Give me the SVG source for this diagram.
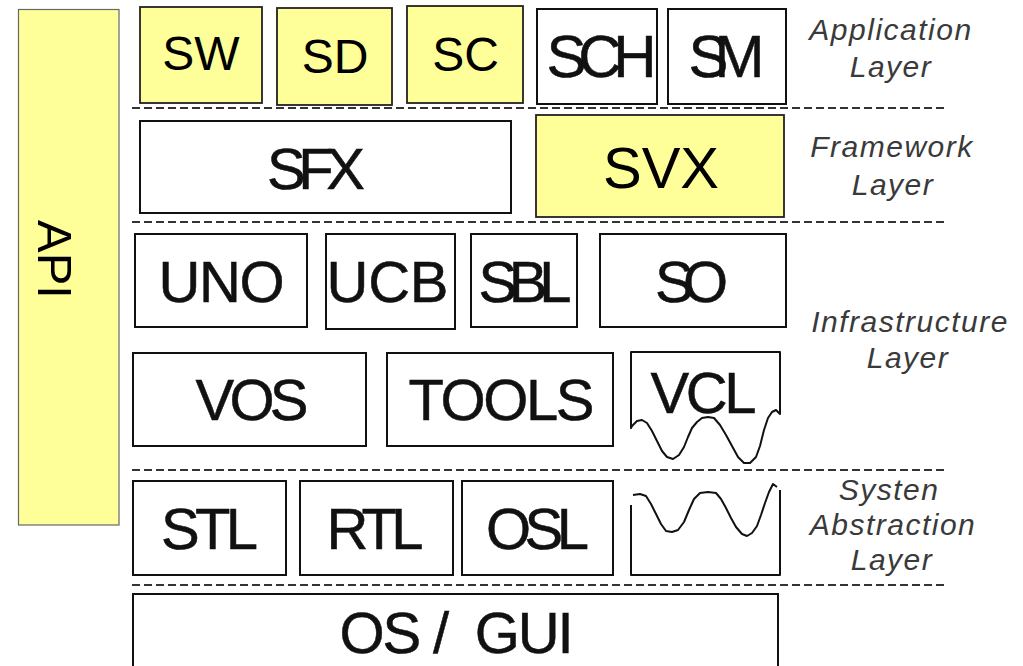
<svg xmlns="http://www.w3.org/2000/svg" width="1023" height="666" viewBox="0 0 1023 666">
<style>
.box{fill:#ffffff;stroke:#111;stroke-width:2}
.ybox{fill:#ffff99;stroke:#222;stroke-width:1.8}
.api{fill:#ffff99;stroke:#666;stroke-width:1.2}
.t{font-family:"Liberation Sans",Arial,sans-serif;font-size:58px;fill:#111;stroke:#111;stroke-width:0.5;text-anchor:middle}
.ty{font-family:"Liberation Sans",Arial,sans-serif;font-size:48px;fill:#000;text-anchor:middle}
.lbl{font-family:"Liberation Sans",Arial,sans-serif;font-size:30px;font-style:italic;fill:#3a3a3a;text-anchor:middle;letter-spacing:1.5px}
.sep{stroke:#333;stroke-width:2;stroke-dasharray:8 4;fill:none}
.wave{fill:none;stroke:#111;stroke-width:2;stroke-linejoin:round}
</style>
<rect width="1023" height="666" fill="#ffffff"/>
<g id="separators">
<line class="sep" x1="132" y1="108" x2="944" y2="108"/>
<line class="sep" x1="132" y1="222" x2="944" y2="222"/>
<line class="sep" x1="132" y1="470" x2="944" y2="470"/>
<line class="sep" x1="132" y1="585" x2="944" y2="585"/>
</g>
<g id="api">
<rect class="api" x="18.5" y="9.5" width="100.5" height="515.5"/>
<text transform="translate(38,220) rotate(90)" x="0" y="0" font-family="Liberation Sans, Arial, sans-serif" font-size="49" fill="#000">API</text>
</g>
<g id="sw"><rect class="ybox" x="140" y="7" width="122" height="96"/><text class="ty" x="201" y="70">SW</text></g>
<g id="sd"><rect class="ybox" x="277" y="8" width="115" height="97"/><text class="ty" x="335" y="73">SD</text></g>
<g id="sc"><rect class="ybox" x="407" y="6" width="116" height="97"/><text class="ty" x="465.5" y="70.5">SC</text></g>
<g id="sch"><rect class="box" x="537" y="9" width="120" height="95"/><text class="t" x="601.5" y="76.5" style="font-size:60px" textLength="110">SCH</text></g>
<g id="sm"><rect class="box" x="668" y="9" width="118" height="95"/><text class="t" x="726.5" y="76.5" style="font-size:60px" textLength="76">SM</text></g>
<g id="app-label"><text class="lbl" x="891" y="40">Application</text><text class="lbl" x="891" y="77">Layer</text></g>
<g id="sfx"><rect class="box" x="140" y="121" width="371" height="92"/><text class="t" x="316" y="188.5" textLength="98">SFX</text></g>
<g id="svx"><rect class="ybox" x="536" y="115" width="248" height="102"/><text class="ty" x="661" y="187.5" style="font-size:58px">SVX</text></g>
<g id="fw-label"><text class="lbl" x="892" y="157">Framework</text><text class="lbl" x="893" y="195">Layer</text></g>
<g id="uno"><rect class="box" x="135" y="234" width="172" height="93"/><text class="t" x="221.5" y="302" textLength="126">UNO</text></g>
<g id="ucb"><rect class="box" x="326" y="234" width="129" height="95"/><text class="t" x="387.5" y="302" textLength="122">UCB</text></g>
<g id="sbl"><rect class="box" x="471" y="234" width="106" height="93"/><text class="t" x="525" y="302" textLength="93">SBL</text></g>
<g id="so"><rect class="box" x="600" y="234" width="186" height="93"/><text class="t" x="691.5" y="301.5" textLength="73">SO</text></g>
<g id="vos"><rect class="box" x="133" y="353" width="233" height="93"/><text class="t" x="252" y="420" textLength="113">VOS</text></g>
<g id="tools"><rect class="box" x="387" y="353" width="226" height="93"/><text class="t" x="501.5" y="420" textLength="186">TOOLS</text></g>
<g id="vcl">
<path class="wave" d="M631,428 V352 H780 V414 L776,410 L772,412 L768,418 L764,430 L760,446 L756,457 L750,463 L744,463 L738,457 L732,446 L726,435 L720,425 L714,418 L708,417 L702,418 L697,422 L692,428 L688,437 L684,447 L679,455 L673,459 L667,457 L662,451 L657,441 L652,431 L647,423 L642,420 L637,421 L632,426 Z"/>
<text class="t" x="703.5" y="413" textLength="106">VCL</text>
</g>
<g id="infra-label"><text class="lbl" x="910" y="332">Infrastructure</text><text class="lbl" x="908" y="368">Layer</text></g>
<g id="stl"><rect class="box" x="133" y="481" width="153" height="94"/><text class="t" x="209.5" y="549" textLength="97">STL</text></g>
<g id="rtl"><rect class="box" x="300" y="481" width="153" height="94"/><text class="t" x="375" y="549" textLength="97">RTL</text></g>
<g id="osl"><rect class="box" x="462" y="481" width="151" height="94"/><text class="t" x="537.5" y="549" textLength="103">OSL</text></g>
<g id="vcl-sal">
<path class="wave" d="M631,505 V575 H780 V490"/>
<path class="wave" d="M633,495 L640,494 L646,496 L651,504 L656,514 L661,524 L666,531 L672,532 L678,530 L684,522 L689,510 L694,499 L700,493 L708,492 L716,493 L721,499 L726,508 L731,518 L736,527 L742,534 L747,536 L752,533 L757,526 L761,515 L765,503 L769,492 L773,484 L777,487"/>
</g>
<g id="sal-label"><text class="lbl" x="889" y="500">Systen</text><text class="lbl" x="893" y="535">Abstraction</text><text class="lbl" x="892" y="570">Layer</text></g>
<g id="osgui"><rect class="box" x="133" y="594" width="645" height="90"/><text class="t" x="456.5" y="653" textLength="234" xml:space="preserve">OS /  GUI</text></g>
</svg>
